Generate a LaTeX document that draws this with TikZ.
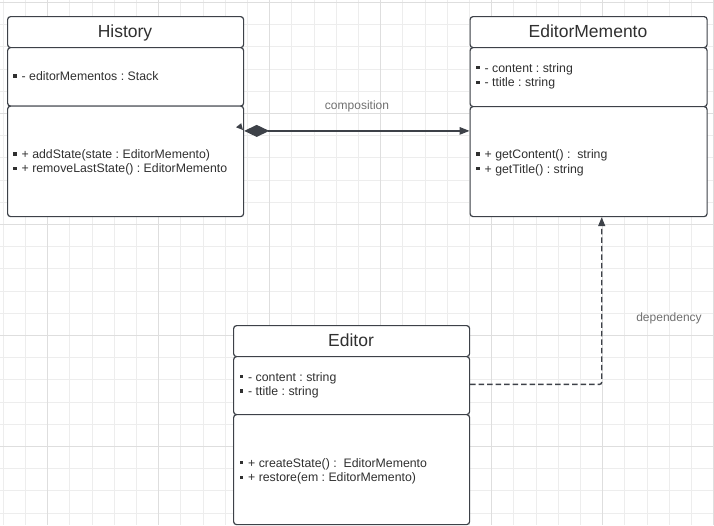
\documentclass[tikz,border=0pt]{standalone}
\usepackage{fontspec}
\setmainfont{Liberation Sans}
\usetikzlibrary{arrows.meta}
\frenchspacing
\definecolor{boxline}{HTML}{3D4148}
\definecolor{txt}{HTML}{303030}
\definecolor{lbl}{HTML}{707070}
\definecolor{gridminor}{HTML}{EDEDED}
\definecolor{gridmajor}{HTML}{DEDEDE}
\tikzset{
  part/.style={draw=boxline, line width=1.2pt, rounded corners=3pt, fill=white,
    anchor=north west, inner sep=0pt, minimum width=#1},
  title/.style={text=txt, font=\fontsize{17.5}{20}\selectfont, inner sep=0pt, anchor=base},
  line/.style={text=txt, font=\fontsize{12.3}{14}\selectfont, anchor=base west, inner sep=0pt},
  bullet/.style={fill=txt, draw=none, minimum size=3.3pt, inner sep=0pt, anchor=center},
  lab/.style={text=lbl, font=\fontsize{12}{14}\selectfont, inner sep=0pt},
  conn/.style={draw=boxline, line width=1.4pt},
}
\begin{document}
\begin{tikzpicture}[x=1pt,y=-1pt]
\fill[white] (0,0) rectangle (714,525);
\useasboundingbox (0,0) rectangle (714,525);
% grid
\foreach \k in {0,...,32} {
  \draw[gridminor, line width=0.9pt] (3.3+22.2*\k,0) -- (3.3+22.2*\k,525);
}
\foreach \k in {0,...,23} {
  \draw[gridminor, line width=0.9pt] (0,2.4+22.2*\k) -- (714,2.4+22.2*\k);
}
\foreach \k in {2,7,12,17,22,27,32} {
  \draw[gridmajor, line width=0.9pt] (3.3+22.2*\k,0) -- (3.3+22.2*\k,525);
}
\foreach \k in {0,5,10,15,20} {
  \draw[gridmajor, line width=0.9pt] (0,2.4+22.2*\k) -- (714,2.4+22.2*\k);
}

% ---------- History ----------
\node[part=236pt, minimum height=31pt] (histH) at (7,16) {};
\node[part=236pt, minimum height=58.5pt] (histA) at (7,47) {};
\node[part=236pt, minimum height=110.5pt] (histM) at (7,105.5) {};
\node[title] (histT) at (125,37) {History};
\node[bullet] (hb1) at (15,76) {};
\node[line] (ha1) at (21.5,80.3) {- editorMementos : Stack};
\node[bullet] (hb2) at (15,154) {};
\node[line] (hm1) at (21.5,158.3) {+ addState(state : EditorMemento)};
\node[bullet] (hb3) at (15,168.5) {};
\node[line] (hm2) at (21.5,172.8) {+ removeLastState() : EditorMemento};

% ---------- EditorMemento ----------
\node[part=237pt, minimum height=31pt] (memH) at (469.5,16) {};
\node[part=237pt, minimum height=59pt] (memA) at (469.5,47) {};
\node[part=237pt, minimum height=110pt] (memM) at (469.5,106) {};
\node[title] (memT) at (588,37) {EditorMemento};
\node[bullet] (mb1) at (478,67.7) {};
\node[line] (ma1) at (484.5,72) {- content : string};
\node[bullet] (mb2) at (478,82.3) {};
\node[line] (ma2) at (484.5,86.6) {- ttitle : string};
\node[bullet] (mb3) at (478,154) {};
\node[line] (mm1) at (484.5,158.3) {+ getContent() :\ \ string};
\node[bullet] (mb4) at (478,168.7) {};
\node[line] (mm2) at (484.5,173) {+ getTitle() : string};

% ---------- Editor ----------
\node[part=236pt, minimum height=31pt] (edH) at (233,325) {};
\node[part=236pt, minimum height=58pt] (edA) at (233,356) {};
\node[part=236pt, minimum height=110pt] (edM) at (233,414) {};
\node[title] (edT) at (351,346) {Editor};
\node[bullet] (eb1) at (241.5,376.7) {};
\node[line] (ea1) at (248,381) {- content : string};
\node[bullet] (eb2) at (241.5,391) {};
\node[line] (ea2) at (248,395.3) {- ttitle : string};
\node[bullet] (eb3) at (241.5,462.7) {};
\node[line] (em1) at (248,467) {+ createState() :\ \ EditorMemento};
\node[bullet] (eb4) at (241.5,477.3) {};
\node[line] (em2) at (248,481.6) {+ restore(em : EditorMemento)};

% ---------- composition ----------
\coordinate (compY) at (350,130.9);
\draw[conn, {Diamond[length=25pt,width=12pt]}-{Triangle[length=10pt,width=7.5pt]}]
  (histM.east |- compY) -- (memM.west |- compY);
\fill[boxline] (236,127.3) -- (241.2,123.2) -- (243,130) -- cycle;
\node[lab] (compL) at (357,106.5) {composition};

% ---------- dependency ----------
\coordinate (depPt) at (601.7,384.3);
\draw[conn, dash pattern=on 5.5pt off 3pt, rounded corners=2pt, -{Triangle[length=9pt,width=7pt]}]
  (edA.east |- depPt) -- (depPt) -- (memM.south -| depPt);
\node[lab] (depL) at (669,318) {dependency};
\end{tikzpicture}
\end{document}
